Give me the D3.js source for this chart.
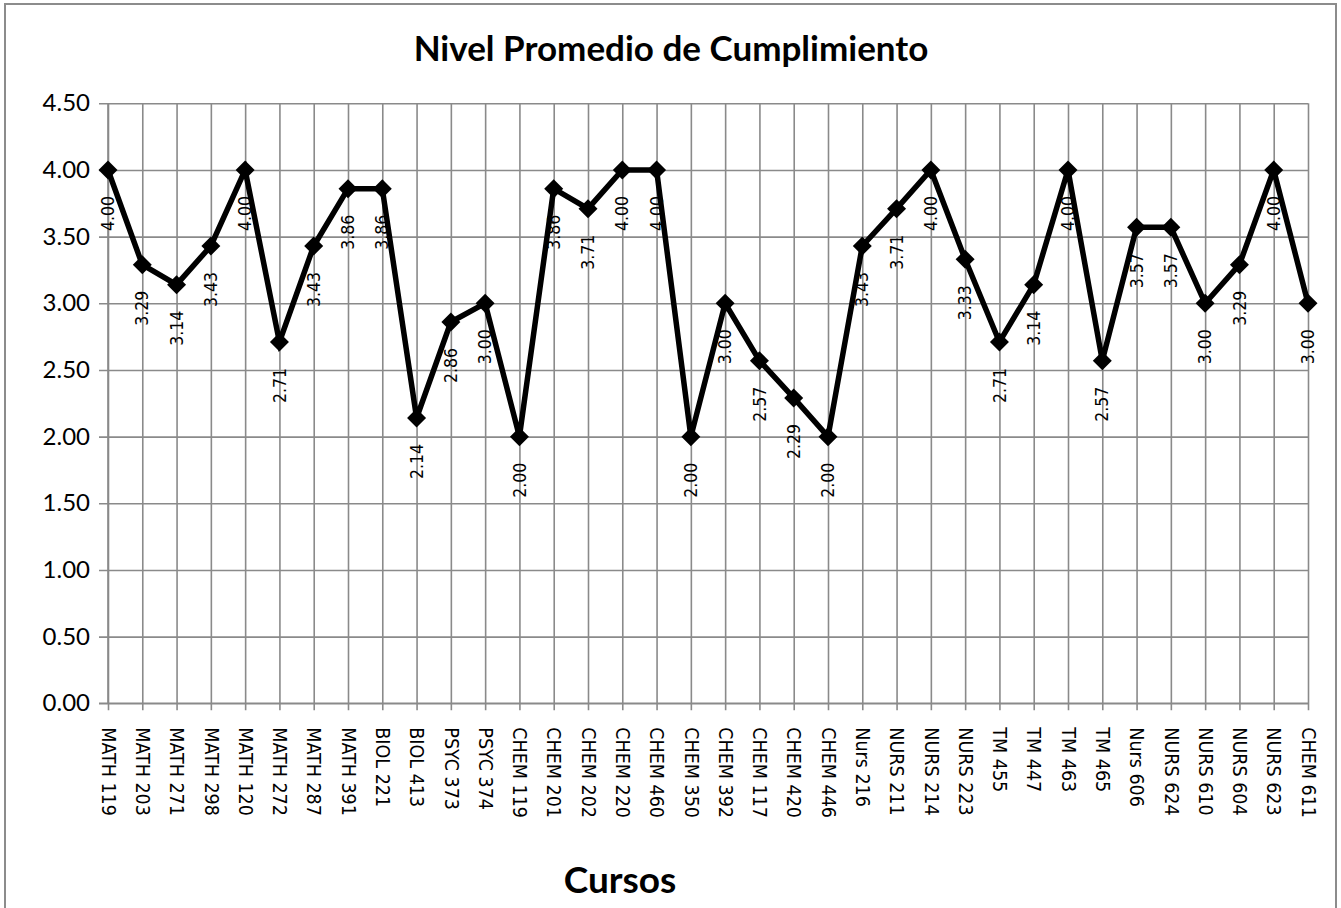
<!DOCTYPE html>
<html>
<head>
<meta charset="utf-8">
<script src="https://cdn.jsdelivr.net/npm/d3@7"></script>
<style>
  html, body { margin: 0; padding: 0; background: #fff; }
  svg { display: block; }
</style>
</head>
<body>
<svg id="chart" width="1341" height="908"></svg>
<script>
const categories = ["MATH 119","MATH 203","MATH 271","MATH 298","MATH 120","MATH 272","MATH 287","MATH 391","BIOL 221","BIOL 413","PSYC 373","PSYC 374","CHEM 119","CHEM 201","CHEM 202","CHEM 220","CHEM 460","CHEM 350","CHEM 392","CHEM 117","CHEM 420","CHEM 446","Nurs 216","NURS 211","NURS 214","NURS 223","TM 455","TM 447","TM 463","TM 465","Nurs 606","NURS 624","NURS 610","NURS 604","NURS 623","CHEM 611"];
const values = [4.00,3.29,3.14,3.43,4.00,2.71,3.43,3.86,3.86,2.14,2.86,3.00,2.00,3.86,3.71,4.00,4.00,2.00,3.00,2.57,2.29,2.00,3.43,3.71,4.00,3.33,2.71,3.14,4.00,2.57,3.57,3.57,3.00,3.29,4.00,3.00];
const yTicks = [0,0.5,1,1.5,2,2.5,3,3.5,4,4.5];
const titleText = "Nivel Promedio de Cumplimiento";
const xTitleText = "Cursos";

(function () {
const svg = d3.select("#chart");
const pL = 108, pR = 1308, pT = 103.3, pB = 703.3;
const condensed = "'DejaVu Sans Condensed', 'DejaVu Sans', sans-serif";

// outer border
svg.append("path")
  .attr("d", `M5,910 L5,4 L1336,4 L1336,910`)
  .attr("fill", "none").attr("stroke", "#8c8c8c").attr("stroke-width", 2);

const x = d3.scalePoint().domain(categories).range([pL, pR]);
const y = d3.scaleLinear().domain([0, 4.5]).range([pB, pT]);

const grid = "#8a8a8a";

// horizontal gridlines with y axis ticks
const yAxis = d3.axisLeft(y).tickValues(yTicks).tickFormat(d3.format(".2f")).tickSize(-(pR - pL)).tickPadding(18);
const gy = svg.append("g").attr("transform", `translate(${pL},0)`).call(yAxis);
gy.select(".domain").remove();
gy.selectAll(".tick line").attr("stroke", grid).attr("stroke-width", 1.6).attr("x1", -9);
gy.selectAll(".tick text").attr("font-family", "Lato, 'Open Sans', sans-serif").attr("font-size", 24).attr("fill", "#000");

// vertical gridlines + x axis ticks
const xAxis = d3.axisBottom(x).tickSize(7).tickPadding(0);
const gx = svg.append("g").attr("transform", `translate(0,${pB})`).call(xAxis);
gx.select(".domain").attr("stroke", grid).attr("stroke-width", 1.6).attr("d", `M${pL - 9},0H${pR}`);
gx.selectAll(".tick line").attr("stroke", grid).attr("stroke-width", 1.6).attr("y1", -(pB - pT)).attr("y2", 7);
gx.selectAll(".tick text")
  .attr("font-family", condensed).attr("font-size", 19.5).attr("fill", "#000")
  .attr("text-anchor", "start")
  .attr("transform", "translate(0,24) rotate(90)")
  .attr("x", 0).attr("y", 0).attr("dy", "0.35em");

// y axis line
svg.append("line").attr("x1", pL).attr("x2", pL).attr("y1", pT).attr("y2", pB)
  .attr("stroke", grid).attr("stroke-width", 1.6);

// data line
const data = categories.map((c, i) => ({c, v: values[i]}));
svg.append("path").datum(data)
  .attr("fill", "none").attr("stroke", "#000").attr("stroke-width", 5.5).attr("stroke-linejoin", "miter")
  .attr("d", d3.line().x(d => x(d.c)).y(d => y(d.v)));

// markers
svg.append("g").selectAll("path").data(data).join("path")
  .attr("d", d3.symbol(d3.symbolDiamond2, 230)())
  .attr("transform", d => `translate(${x(d.c)},${y(d.v)})`)
  .attr("fill", "#000");

// data labels
svg.append("g").selectAll("text").data(data).join("text")
  .attr("transform", d => `translate(${x(d.c)},${y(d.v) + 26}) rotate(-90)`)
  .attr("text-anchor", "end").attr("dy", "0.35em")
  .attr("font-family", condensed).attr("font-size", 17.5).attr("fill", "#000")
  .text(d => d3.format(".2f")(d.v));

// titles
svg.append("text").attr("x", 671).attr("y", 61).attr("text-anchor", "middle")
  .attr("font-family", "Lato, 'Open Sans', sans-serif").attr("font-weight", "bold").attr("font-size", 35)
  .text(titleText);
svg.append("text").attr("x", 620).attr("y", 893).attr("text-anchor", "middle")
  .attr("font-family", "Lato, 'Open Sans', sans-serif").attr("font-weight", "bold").attr("font-size", 37)
  .text(xTitleText);
})();
</script>
</body>
</html>
